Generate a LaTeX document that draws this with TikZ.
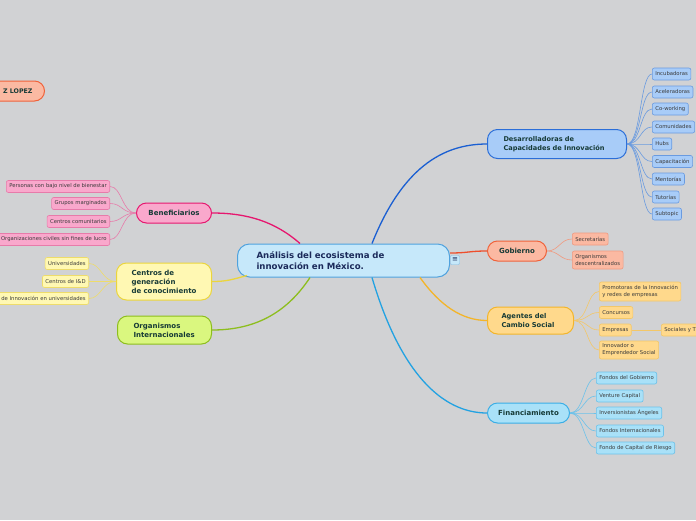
\documentclass[tikz,border=0pt]{standalone}
\usepackage{fontspec}
\setmainfont{DejaVu Sans}
\newfontfamily\dejavu{DejaVu Sans}
\usetikzlibrary{calc}
\definecolor{bg}{HTML}{D1D2D4}
\definecolor{maintext}{HTML}{163A36}
\definecolor{leaftext}{HTML}{3A3A3A}
\definecolor{cfill}{HTML}{C6E8FA}\definecolor{cdraw}{HTML}{4FA2DE}\definecolor{ctext}{HTML}{1B2A5A}
\definecolor{dfill}{HTML}{A8CCF8}\definecolor{ddraw}{HTML}{2B6ED8}\definecolor{dline}{HTML}{1A5FD2}\definecolor{dleaf}{HTML}{6A9BE0}
\definecolor{bfill}{HTML}{F9A8CC}\definecolor{bdraw}{HTML}{E6176F}\definecolor{bleaf}{HTML}{E77BAA}
\definecolor{gfill}{HTML}{FBB9A2}\definecolor{gdraw}{HTML}{F0623A}\definecolor{gline}{HTML}{EE4E2C}\definecolor{gleaf}{HTML}{F09A80}
\definecolor{afill}{HTML}{FFD98C}\definecolor{adraw}{HTML}{F3B52A}\definecolor{aleaf}{HTML}{F3C768}
\definecolor{ffill}{HTML}{A9E1F8}\definecolor{fdraw}{HTML}{3AAEE6}\definecolor{fline}{HTML}{22A2E2}\definecolor{fleaf}{HTML}{6CC2EA}
\definecolor{yfill}{HTML}{FFF8B3}\definecolor{ydraw}{HTML}{EBD53D}\definecolor{yleaf}{HTML}{EEDC6A}
\definecolor{ofill}{HTML}{DAF77F}\definecolor{odraw}{HTML}{8DBE1E}
\tikzset{
  mainbox/.style={draw, rounded corners=10pt, line width=1pt, text=maintext,
    font=\fontsize{7}{9}\selectfont\bfseries, inner ysep=0pt},
  leaf/.style={draw, rounded corners=2pt, line width=0.6pt, text=leaftext,
    font=\fontsize{5.3}{7}\selectfont, inner xsep=3pt, inner ysep=0pt, minimum height=12pt, align=left},
  branch/.style={line width=1.3pt},
  twig/.style={line width=0.6pt},
}
\begin{document}
\begin{tikzpicture}[x=1pt,y=-1pt]
\fill[bg] (0,0) rectangle (696,520);
\useasboundingbox (0,0) rectangle (696,520);

% central
\node[mainbox, fill=cfill, draw=cdraw, text=ctext, rounded corners=12pt, anchor=west,
  inner xsep=19pt, text width=174pt, align=left, minimum height=33pt,
  font=\fontsize{8.6}{10.5}\selectfont\bfseries] (c) at (237,260.5)
  {Análisis del ecosistema de\\innovación en México.};
\node[draw=cdraw!70, fill=cfill, rounded corners=1pt, line width=0.4pt, minimum size=9pt, inner sep=0pt,
  text=ctext, font=\dejavu\fontsize{7}{7}\selectfont] (ic) at (455,260) {≡};

% main topics
\node[mainbox, fill=gfill, draw=gdraw, anchor=east, inner xsep=12pt, text width=70pt, align=right,
  minimum height=20pt, font=\fontsize{6.3}{9}\selectfont\bfseries] (z) at (45,91) {Z LOPEZ};
\node[mainbox, fill=dfill, draw=ddraw, anchor=west, inner xsep=16pt, text width=107pt, align=left,
  minimum height=29pt, font=\fontsize{6.6}{9}\selectfont\bfseries] (d) at (487,144) {Desarrolladoras de\\Capacidades de Innovación};
\node[mainbox, fill=bfill, draw=bdraw, anchor=west, inner xsep=4pt, text width=67pt, align=center,
  minimum height=20pt] (b) at (136,213) {Beneficiarios};
\node[mainbox, fill=gfill, draw=gdraw, anchor=west, inner xsep=4pt, text width=51pt, align=center,
  minimum height=20pt] (g) at (487,251) {Gobierno};
\node[mainbox, fill=afill, draw=adraw, anchor=west, inner xsep=14pt, text width=58pt, align=left,
  minimum height=27pt, font=\fontsize{6.7}{9}\selectfont\bfseries] (a) at (487,320.5) {Agentes del\\Cambio Social};
\node[mainbox, fill=ffill, draw=fdraw, anchor=west, inner xsep=4pt, text width=74pt, align=center,
  minimum height=20pt] (f) at (487,413) {Financiamiento};
\node[mainbox, fill=yfill, draw=ydraw, anchor=west, inner xsep=15pt, text width=65pt, align=left,
  minimum height=37pt] (y) at (116,281.5) {Centros de\\generación\\de conocimiento};
\node[mainbox, fill=ofill, draw=odraw, anchor=west, inner xsep=16pt, text width=62pt, align=left,
  minimum height=28pt] (o) at (117,330) {Organismos\\Internacionales};

% branch start points on central node
\coordinate (cD) at ($(c.north west)+(135,0)$);
\coordinate (cB) at ($(c.north west)+(63,0)$);
\coordinate (cG) at ($(c.east)+(0,-7.5)$);
\coordinate (cA) at ($(c.south west)+(183,0)$);
\coordinate (cF) at ($(c.south west)+(135,0)$);
\coordinate (cY) at ($(c.south west)+(10,-2)$);
\coordinate (cO) at ($(c.south west)+(73,0)$);

\draw[branch, dline] (cD) .. controls +(30,-75) and +(-45,0) .. (d.west);
\draw[branch, bdraw] (cB) .. controls +(-25,-22) and +(35,0) .. (b.east);
\draw[branch, gline] (cG) .. controls +(18,0) and +(-18,0) .. (g.west);
\draw[branch, adraw] (cA) .. controls +(20,28) and +(-25,0) .. (a.west);
\draw[branch, fline] (cF) .. controls +(28,95) and +(-45,0) .. (f.west);
\draw[branch, ydraw] (cY) .. controls +(-15,4) and +(15,0) .. (y.east);
\draw[branch, odraw] (cO) .. controls +(-25,38) and +(40,0) .. (o.east);

% Desarrolladoras leaves
\foreach \n/\t/\yy in {d1/Incubadoras/74, d2/Aceleradoras/92, d3/Co-working/109, d4/Comunidades/127,
  d5/Hubs/144, d6/Capacitación/161.5, d7/Mentorías/179, d8/Tutorías/197, d9/Subtopic/214}{
  \node[leaf, fill=dfill, draw=dleaf, anchor=west] (\n) at (652,\yy) {\t};
  \draw[twig, dleaf] (d.east) .. controls +(14,0) and +(-12,0) .. (\n.west);
}

% Beneficiarios leaves
\foreach \n/\t/\yy in {b1/Personas con bajo nivel de bienestar/186.5, b2/Grupos marginados/203.5,
  b3/Centros comunitarios/221.5, b4/Organizaciones civiles sin fines de lucro/239.5}{
  \node[leaf, fill=bfill, draw=bleaf, anchor=east] (\n) at (110,\yy) {\t};
  \draw[twig, bleaf] (b.west) .. controls +(-14,0) and +(12,0) .. (\n.east);
}

% Centros leaves
\foreach \n/\t/\yy in {y1/Universidades/263.5, y2/Centros de I\&D/281.5}{
  \node[leaf, fill=yfill, draw=yleaf, anchor=east] (\n) at (89,\yy) {\t};
  \draw[twig, yleaf] (y.west) .. controls +(-14,0) and +(12,0) .. (\n.east);
}
\node[leaf, fill=yfill, draw=yleaf, anchor=east, text width=94pt, align=right] (y3) at (89,298.5)
  {de Innovación en universidades};
\draw[twig, yleaf] (y.west) .. controls +(-14,0) and +(12,0) .. (y3.east);

% Gobierno leaves
\node[leaf, fill=gfill, draw=gleaf, anchor=west] (g1) at (572,239) {Secretarías};
\node[leaf, fill=gfill, draw=gleaf, anchor=west, minimum height=18pt] (g2) at (572,260)
  {Organismos\\descentralizados};
\foreach \n in {g1,g2}{\draw[twig, gleaf] (g.east) .. controls +(12,0) and +(-12,0) .. (\n.west);}

% Agentes leaves
\node[leaf, fill=afill, draw=aleaf, anchor=west, minimum height=19pt] (a1) at (599,291.5)
  {Promotoras de la Innovación\\y redes de empresas};
\node[leaf, fill=afill, draw=aleaf, anchor=west] (a2) at (599,312.5) {Concursos};
\node[leaf, fill=afill, draw=aleaf, anchor=west] (a3) at (599,330) {Empresas};
\node[leaf, fill=afill, draw=aleaf, anchor=west, minimum height=18pt] (a4) at (599,350)
  {Innovador o\\Emprendedor Social};
\foreach \n in {a1,a2,a3,a4}{\draw[twig, aleaf] (a.east) .. controls +(14,0) and +(-12,0) .. (\n.west);}
\node[leaf, fill=afill, draw=aleaf, anchor=west, text width=54pt] (a5) at (661,330) {Sociales y T};
\draw[twig, aleaf] (a3.east) -- (a5.west);

% Financiamiento leaves
\foreach \n/\t/\yy in {f1/Fondos del Gobierno/378, f2/Venture Capital/396, f3/Inversionistas Ángeles/413,
  f4/Fondos Internacionales/431, f5/Fondo de Capital de Riesgo/448}{
  \node[leaf, fill=ffill, draw=fleaf, anchor=west] (\n) at (596,\yy) {\t};
  \draw[twig, fleaf] (f.east) .. controls +(14,0) and +(-12,0) .. (\n.west);
}
\end{tikzpicture}
\end{document}
